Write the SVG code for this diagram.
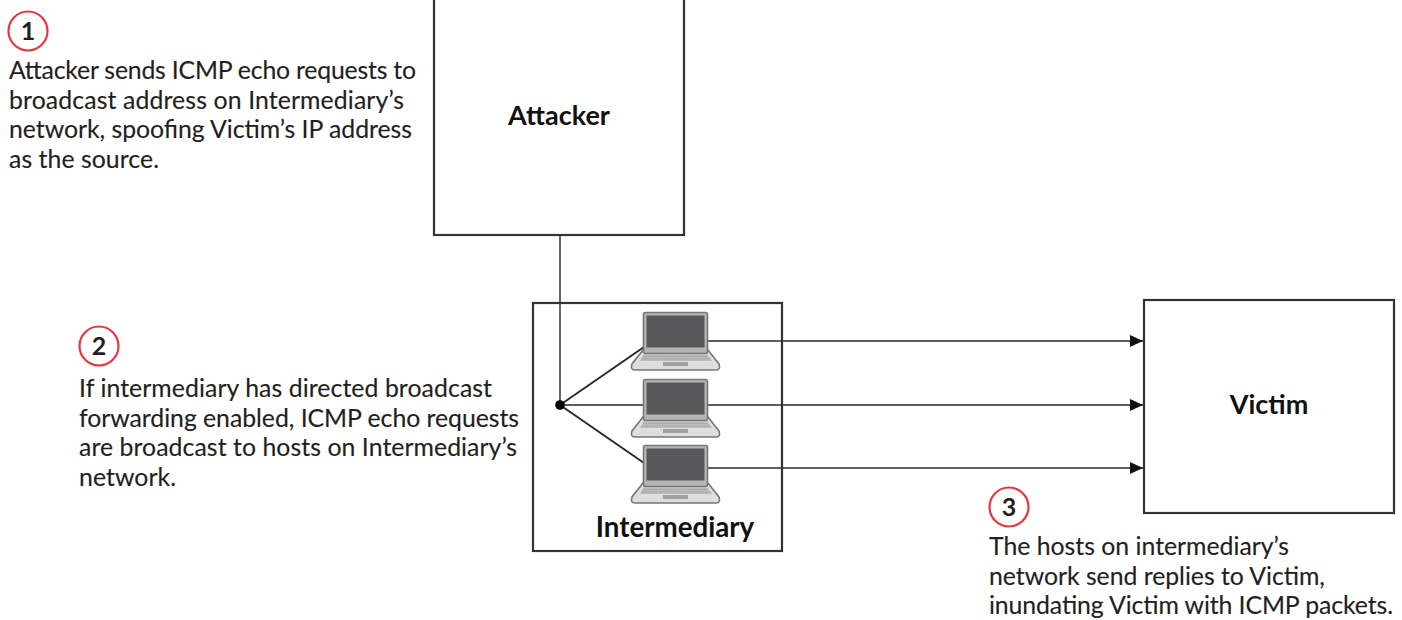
<svg xmlns="http://www.w3.org/2000/svg" width="1402" height="620" viewBox="0 0 1402 620">
<style>
.t{font-family:Lato,"Open Sans",sans-serif;font-size:24.8px;fill:#231f20;stroke:#231f20;stroke-width:.15}
.b{font-family:Lato,"Open Sans",sans-serif;font-size:27px;font-weight:700;fill:#111;text-anchor:middle}
.n{font-family:Lato,"Open Sans",sans-serif;font-size:25px;font-weight:700;fill:#231f20;text-anchor:middle}
.box{fill:#fff;stroke:#333;stroke-width:2.2}
.c{fill:#fff;stroke:#e2383f;stroke-width:2.2}
.l{fill:none;stroke:#2a2a2a;stroke-width:1.7}
</style>
<defs>
<marker id="a" markerUnits="userSpaceOnUse" markerWidth="13" markerHeight="12" refX="13" refY="6" orient="auto"><path d="M0 0L13 6L0 12Z" fill="#111"/></marker>
<g id="lap">
<path d="M12 38L1 52Q-1 58 4 58H85Q90 58 88 52L77 38Z" fill="#dedede" stroke="#777" stroke-width="1.600"/>
<rect x="12.500" y="0.500" width="64" height="41" rx="2" fill="#b5b5b5" stroke="#777" stroke-width="1.600"/>
<rect x="15.500" y="3.500" width="58" height="32" fill="#58585a"/>
<path d="M13 42H76L81 49H9Z" fill="#bbb"/>
<path d="M12 44.500H77M10.500 47H79" stroke="#999" stroke-width=".8" stroke-dasharray="1.500 1"/>
<rect x="32" y="50" width="25" height="4" fill="#a0a0a0"/>
</g>
</defs>
<g id="connectors">
<path class="l" style="stroke:#666;stroke-width:2" d="M560 236V405"/>
<path class="l" style="stroke-width:2" d="M560 405L644 347M560 405L644 463"/>
<path class="l" d="M560 405H644"/>
<path class="l" marker-end="url(#a)" d="M707 341H1143"/>
<path class="l" marker-end="url(#a)" d="M707 405H1143"/>
<path class="l" marker-end="url(#a)" d="M707 468H1143"/>
<circle cx="560" cy="405" r="4.800" fill="#000"/>
</g>
<g id="attacker"><rect class="box" x="434" y="-3" width="250" height="238"/><text class="b" x="559" y="125">Attacker</text></g>
<g id="intermediary"><rect class="box" style="fill:none" x="533" y="303" width="249" height="248"/><text class="b" style="font-size:27.7px" x="675" y="537">Intermediary</text>
<use href="#lap" x="631" y="312"/><use href="#lap" x="631" y="379"/><use href="#lap" x="631" y="445"/></g>
<g id="victim"><rect class="box" x="1144" y="300" width="250" height="213"/><text class="b" x="1269" y="414">Victim</text></g>
<g id="step1"><circle class="c" cx="28" cy="31" r="19.500"/><text class="n" x="28" y="40">1</text>
<text class="t" x="9" y="79" textLength="407">Attacker sends ICMP echo requests to</text><text class="t" x="9" y="109" textLength="395">broadcast address on Intermediary’s</text><text class="t" x="9" y="138" textLength="403">network, spoofing Victim’s IP address</text><text class="t" x="9" y="168" textLength="150">as the source.</text></g>
<g id="step2"><circle class="c" cx="99" cy="346" r="19.500"/><text class="n" x="99" y="355">2</text>
<text class="t" x="79" y="397" textLength="413">If intermediary has directed broadcast</text><text class="t" x="79" y="427" textLength="440">forwarding enabled, ICMP echo requests</text><text class="t" x="79" y="456" textLength="438">are broadcast to hosts on Intermediary’s</text><text class="t" x="79" y="486" textLength="97">network.</text></g>
<g id="step3"><circle class="c" cx="1009" cy="507" r="19.500"/><text class="n" x="1009" y="516">3</text>
<text class="t" x="989" y="555" textLength="300">The hosts on intermediary’s</text><text class="t" x="989" y="585" textLength="336">network send replies to Victim,</text><text class="t" x="989" y="614" textLength="404">inundating Victim with ICMP packets.</text></g>
</svg>
